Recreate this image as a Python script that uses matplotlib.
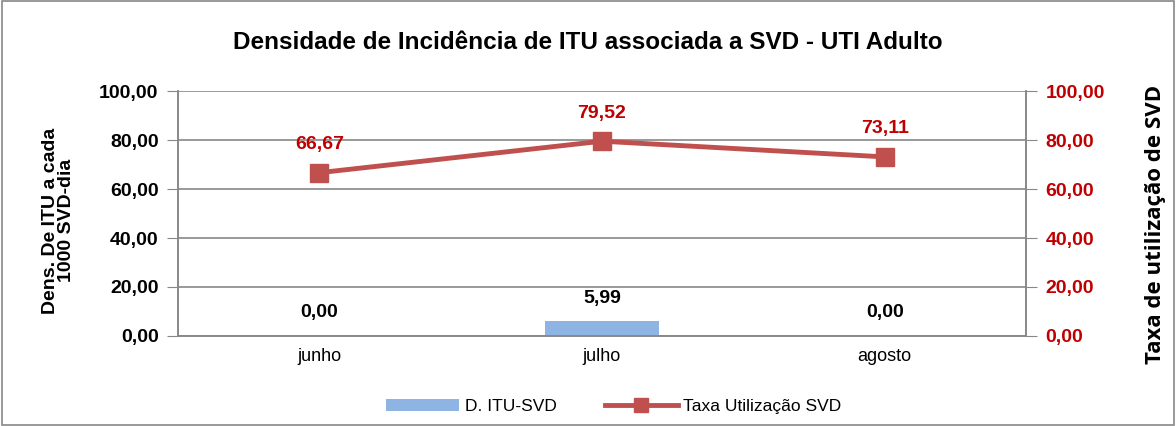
import matplotlib.pyplot as plt
from matplotlib.patches import Rectangle

# data
meses = ['junho', 'julho', 'agosto']
dens_itu = [0.00, 5.99, 0.00]
taxa_svd = [66.67, 79.52, 73.11]

def fmt(v):
    return f'{v:.2f}'.replace('.', ',')

plt.rcParams['font.family'] = ['Liberation Sans', 'DejaVu Sans']

fig = plt.figure(figsize=(11.76, 4.26), dpi=100)
fig.patches.append(Rectangle((0.002, 0.003), 0.996, 0.994, transform=fig.transFigure,
                             fill=False, edgecolor='#888888', lw=1.2))

ax = fig.add_axes([0.1514, 0.2113, 0.721, 0.575])
ax2 = ax.twinx()

x = list(range(len(meses)))
bars = ax.bar(x, dens_itu, width=0.4, color='#8EB4E3', zorder=2)
ax2.plot(x, taxa_svd, color='#C0504D', lw=3.5, marker='s', markersize=13,
         markerfacecolor='#C0504D', markeredgecolor='#C0504D', zorder=3)

ax.set_xlim(-0.5, 2.5)
ax.set_ylim(0, 100)
ax2.set_ylim(0, 100)
ticks = [0, 20, 40, 60, 80, 100]
ax.set_yticks(ticks)
ax.set_yticklabels([fmt(t) for t in ticks], fontsize=14, fontweight='bold')
ax2.set_yticks(ticks)
ax2.set_yticklabels([fmt(t) for t in ticks], fontsize=14, fontweight='bold', color='#C00000')
ax.set_xticks(x)
ax.set_xticklabels(meses, fontsize=13)
ax.grid(axis='y', color='#888888', lw=1.2, zorder=0)
ax.set_axisbelow(True)

for a in (ax, ax2):
    for s in a.spines.values():
        s.set_color('#888888')
        s.set_linewidth(1.2)
    a.spines['top'].set_visible(False)
ax.tick_params(axis='y', length=8, color='#888888', pad=6)
ax2.tick_params(axis='y', length=8, color='#888888', pad=6)
ax.tick_params(axis='x', length=0, pad=9)

ax.set_ylabel('Dens. De ITU a cada\n1000 SVD-dia', fontsize=14, fontweight='bold',
              linespacing=0.95)
ax.yaxis.set_label_coords(-0.121, 0.47)
ax2.set_ylabel('Taxa de utilização de SVD', fontsize=16, fontweight='bold',
               family=['Open Sans', 'DejaVu Sans'])
ax2.yaxis.set_label_coords(1.14, 0.455)

for xi, v in zip(x, dens_itu):
    ax.text(xi, v + 6, fmt(v), ha='center', va='bottom', fontsize=14, fontweight='bold')
for xi, v in zip(x, taxa_svd):
    ax2.text(xi, v + 8, fmt(v), ha='center', va='bottom', fontsize=14,
             fontweight='bold', color='#C00000')

fig.text(0.5, 0.9, 'Densidade de Incidência de ITU associada a SVD - UTI Adulto',
         ha='center', va='center', fontsize=17.5, fontweight='bold')

fig.legend([bars, ax2.lines[0]], ['D. ITU-SVD', 'Taxa Utilização SVD'],
           loc='center', bbox_to_anchor=(0.522, 0.045), ncol=2, frameon=False,
           fontsize=12.5, handlelength=4.2, columnspacing=2.8, handletextpad=0.3,
           markerscale=0.75)

fig.savefig('out.png', dpi=100)
